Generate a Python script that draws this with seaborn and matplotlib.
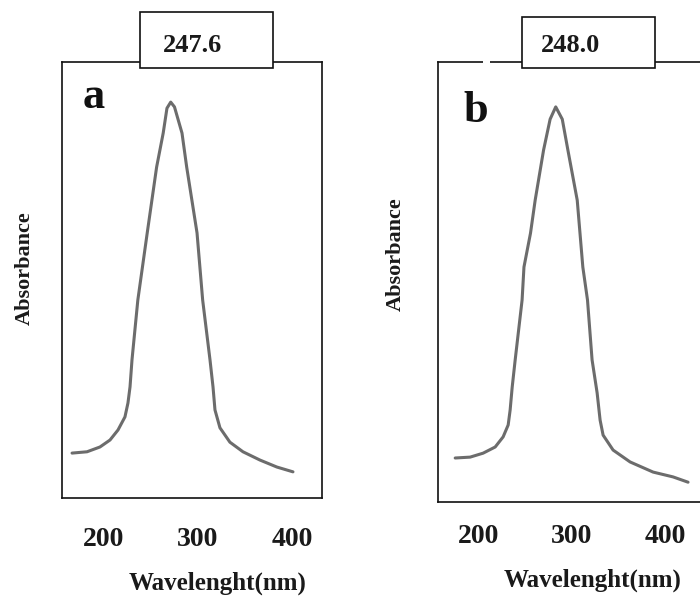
import matplotlib
matplotlib.use("Agg")
import matplotlib.pyplot as plt
import seaborn as sns
import pandas as pd
from matplotlib.patches import Rectangle

# ---- data ----
wave_a = [166.0, 181.9, 195.7, 206.4, 214.9, 222.3, 225.5, 227.7, 229.8, 236, 246,
          256, 263, 267, 271, 275, 283, 288, 299, 305, 312.8, 316.0, 318.1, 323.4,
          334.0, 347.9, 366.0, 384.0, 401.1]
abs_a = [0.103, 0.106, 0.117, 0.133, 0.156, 0.186, 0.218, 0.255, 0.317, 0.454, 0.608,
         0.759, 0.837, 0.894, 0.908, 0.897, 0.837, 0.759, 0.608, 0.454, 0.317, 0.255,
         0.202, 0.161, 0.128, 0.106, 0.087, 0.071, 0.060]

wave_b = [175.4, 191.4, 205.3, 218.2, 226.7, 232.1, 234.2, 236.4, 239.6, 247, 249,
          256, 261, 270, 277, 283, 290, 296, 306, 312, 317, 321.9, 327.3, 330.5,
          333.7, 344.4, 362.6, 387.2, 408.6, 424.6]
abs_b = [0.100, 0.102, 0.111, 0.125, 0.148, 0.175, 0.209, 0.261, 0.323, 0.459, 0.534,
         0.611, 0.686, 0.800, 0.870, 0.898, 0.870, 0.800, 0.686, 0.534, 0.459, 0.323,
         0.248, 0.186, 0.152, 0.118, 0.091, 0.068, 0.057, 0.045]

tick_values = [200, 300, 400]
tick_labels = ["200", "300", "400"]
peak_labels = ["247.6", "248.0"]
panel_labels = ["a", "b"]
x_title = "Wavelenght(nm)"
y_title = "Absorbance"

sns.set_style("white")
plt.rcParams["font.family"] = ["Liberation Serif", "DejaVu Serif"]
plt.rcParams["font.weight"] = "bold"

W, H = 700, 597
fig = plt.figure(figsize=(W / 100, H / 100), dpi=100)


def fx(px):
    return px / W


def fy(py):
    return 1 - py / H


ax_a = fig.add_axes([fx(62), fy(498), fx(322) - fx(62), fy(62) - fy(498)])
ax_b = fig.add_axes([fx(438), fy(502), 1.0 - fx(438), fy(62) - fy(502)])

df_a = pd.DataFrame({"w": wave_a, "A": abs_a})
df_b = pd.DataFrame({"w": wave_b, "A": abs_b})

line_kw = dict(color="#6c6c6c", linewidth=2.2, sort=False, estimator=None)
sns.lineplot(data=df_a, x="w", y="A", ax=ax_a, **line_kw)
sns.lineplot(data=df_b, x="w", y="A", ax=ax_b, **line_kw)
for ax in (ax_a, ax_b):
    for ln in ax.get_lines():
        ln.set_solid_joinstyle("round")
        ln.set_solid_capstyle("round")

ax_a.set_xlim(155.3, 432)
ax_b.set_xlim(157, 437.4)
for ax in (ax_a, ax_b):
    ax.set_ylim(0, 1)
    ax.set_xlabel("")
    ax.set_ylabel("")
    ax.set_xticks(tick_values)
    ax.set_xticklabels(tick_labels, fontsize=20, fontweight="bold", color="#1a1a1a")
    for s in ax.spines.values():
        s.set_color("#111111")
        s.set_linewidth(1.2)

ax_a.tick_params(axis="x", length=0, pad=21)
ax_b.tick_params(axis="x", length=0, pad=16)
ax_a.set_yticks([0.03])
ax_a.set_yticklabels([])
ax_a.tick_params(axis="y", direction="in", length=4, width=1, color="#555555")
ax_b.set_yticks([])
ax_b.spines["right"].set_visible(False)

# peak value boxes over the top spine
fig.patches.append(Rectangle((fx(140), fy(68)), fx(273) - fx(140), fy(12) - fy(68),
                             transform=fig.transFigure, facecolor="white",
                             edgecolor="#111111", linewidth=1.2, zorder=5))
fig.patches.append(Rectangle((fx(522), fy(68)), fx(655) - fx(522), fy(17) - fy(68),
                             transform=fig.transFigure, facecolor="white",
                             edgecolor="#111111", linewidth=1.2, zorder=5))
# small gap in top line of panel b
fig.patches.append(Rectangle((fx(483), fy(66)), fx(490) - fx(483), fy(58) - fy(66),
                             transform=fig.transFigure, facecolor="white",
                             edgecolor="none", zorder=5))

fig.text(fx(193), fy(52), peak_labels[0], ha="center", va="baseline",
         fontsize=19, fontweight="bold", color="#1a1a1a", zorder=6)
fig.text(fx(570), fy(52), peak_labels[1], ha="center", va="baseline",
         fontsize=19, fontweight="bold", color="#1a1a1a", zorder=6)

fig.text(fx(94), fy(108), panel_labels[0], ha="center", va="baseline",
         fontsize=32, fontweight="bold", color="#111111")
fig.text(fx(476), fy(122), panel_labels[1], ha="center", va="baseline",
         fontsize=32, fontweight="bold", color="#111111")

fig.text(fx(218), fy(590), x_title, ha="center", va="baseline",
         fontsize=18, fontweight="bold", color="#1a1a1a")
fig.text(fx(593), fy(587), x_title, ha="center", va="baseline",
         fontsize=18, fontweight="bold", color="#1a1a1a")

fig.text(fx(25), fy(268), y_title, ha="center", va="center", rotation=90,
         fontsize=16, fontweight="bold", color="#1a1a1a")
fig.text(fx(396), fy(254), y_title, ha="center", va="center", rotation=90,
         fontsize=16, fontweight="bold", color="#1a1a1a")

fig.savefig("out.png", dpi=100, facecolor="white")
